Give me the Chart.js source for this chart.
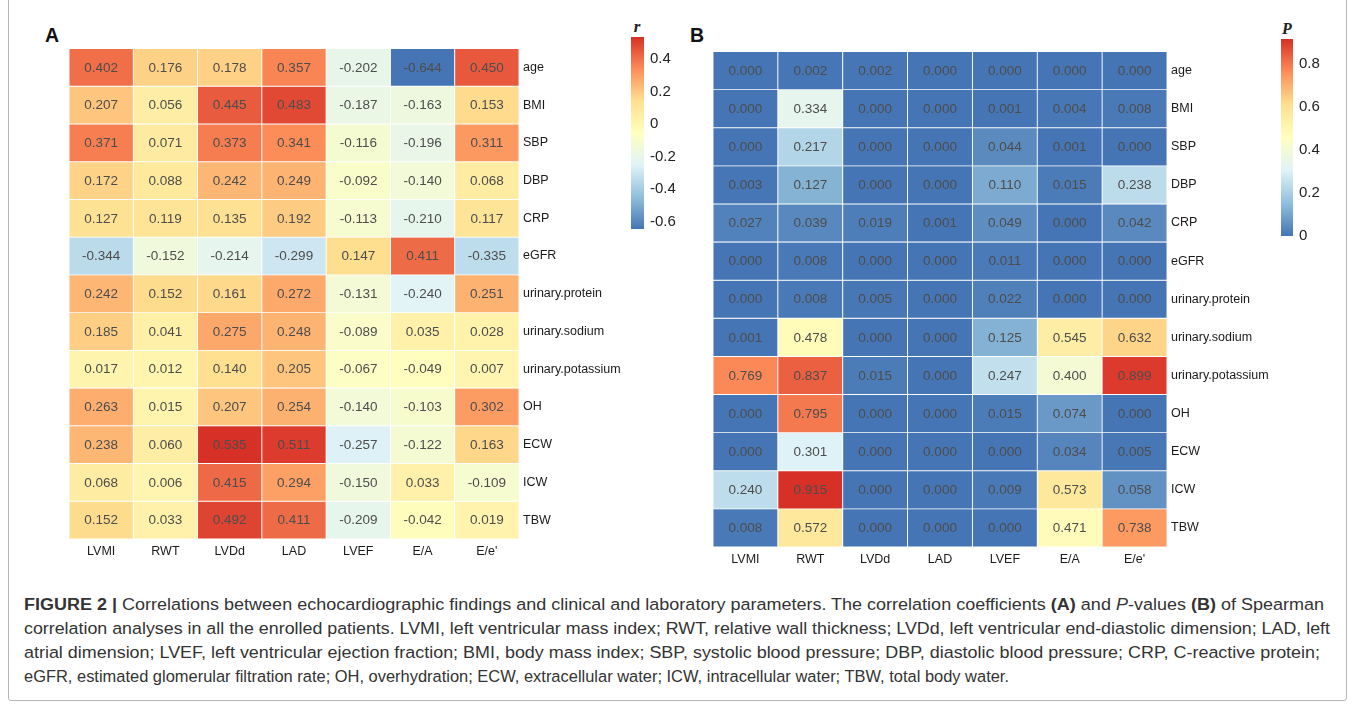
<!DOCTYPE html>
<html>
<head>
<meta charset="utf-8">
<script src="https://cdn.jsdelivr.net/npm/chart.js@4.4.1/dist/chart.umd.min.js"></script>
<style>
    body { margin: 0; background: #fff; }
    #fig { position: relative; width: 1355px; height: 706px; overflow: hidden; font-family: Arial, 'Liberation Sans', sans-serif; }
    canvas { position: absolute; }
    .panel { position: absolute; font-weight: bold; font-size: 19.5px; line-height: 19.5px; color: #111; }
    .ltitle { position: absolute; width: 20px; text-align: center; font-family: 'Liberation Serif', 'DejaVu Serif', serif; font-style: italic; font-weight: bold; color: #222; }
    #frame { position: absolute; left: 8px; top: -4px; width: 1337px; height: 703px; border: 1px solid #b5b5b5; border-radius: 3px; }
    .cap { position: absolute; left: 24px; white-space: nowrap; font-size: 17.2px; line-height: 20px; color: #333; transform-origin: 0 50%; }
</style>
</head>
<body>
<div id="fig">
    <div id="frame"></div>
    <div class="panel" style="left:45px; top:25.5px;">A</div>
    <div class="panel" style="left:690px; top:25.5px;">B</div>
    <div class="ltitle" style="left:627px; top:18px; font-size:17px; line-height:17px;">r</div>
    <div class="ltitle" style="left:1277px; top:21px; font-size:16px; line-height:16px;">P</div>

    <canvas id="heatA" width="560" height="527" style="left:69px; top:37px;"></canvas>
    <canvas id="barA" width="53" height="232" style="left:631px; top:17px;"></canvas>
    <canvas id="heatB" width="564" height="532" style="left:713px; top:40px;"></canvas>
    <canvas id="barB" width="52" height="237" style="left:1281px; top:19px;"></canvas>

    <div class="cap" style="top:594px;"><b>FIGURE 2 |</b> Correlations between echocardiographic findings and clinical and laboratory parameters. The correlation coefficients <b>(A)</b> and <i>P</i>-values <b>(B)</b> of Spearman</div>
    <div class="cap" style="top:618px;">correlation analyses in all the enrolled patients. LVMI, left ventricular mass index; RWT, relative wall thickness; LVDd, left ventricular end-diastolic dimension; LAD, left</div>
    <div class="cap" style="top:642px;">atrial dimension; LVEF, left ventricular ejection fraction; BMI, body mass index; SBP, systolic blood pressure; DBP, diastolic blood pressure; CRP, C-reactive protein;</div>
    <div class="cap" style="top:666px;">eGFR, estimated glomerular filtration rate; OH, overhydration; ECW, extracellular water; ICW, intracellular water; TBW, total body water.</div>
</div>

<script>
// column and row labels (same for both panels)
const colLabels = ['LVMI', 'RWT', 'LVDd', 'LAD', 'LVEF', 'E/A', "E/e'"];
const rowLabels = ['age', 'BMI', 'SBP', 'DBP', 'CRP', 'eGFR', 'urinary.protein', 'urinary.sodium',
    'urinary.potassium', 'OH', 'ECW', 'ICW', 'TBW'];

// panel A: Spearman r, one array per column (rows in rowLabels order)
const rLVMI = [0.402, 0.207, 0.371, 0.172, 0.127, -0.344, 0.242, 0.185, 0.017, 0.263, 0.238, 0.068, 0.152];
const rRWT  = [0.176, 0.056, 0.071, 0.088, 0.119, -0.152, 0.152, 0.041, 0.012, 0.015, 0.060, 0.006, 0.033];
const rLVDd = [0.178, 0.445, 0.373, 0.242, 0.135, -0.214, 0.161, 0.275, 0.140, 0.207, 0.535, 0.415, 0.492];
const rLAD  = [0.357, 0.483, 0.341, 0.249, 0.192, -0.299, 0.272, 0.248, 0.205, 0.254, 0.511, 0.294, 0.411];
const rLVEF = [-0.202, -0.187, -0.116, -0.092, -0.113, 0.147, -0.131, -0.089, -0.067, -0.140, -0.257, -0.150, -0.209];
const rEA   = [-0.644, -0.163, -0.196, -0.140, -0.210, 0.411, -0.240, 0.035, -0.049, -0.103, -0.122, 0.033, -0.042];
const rEe   = [0.450, 0.153, 0.311, 0.068, 0.117, -0.335, 0.251, 0.028, 0.007, 0.302, 0.163, -0.109, 0.019];

// panel B: P-values
const pLVMI = [0.000, 0.000, 0.000, 0.003, 0.027, 0.000, 0.000, 0.001, 0.769, 0.000, 0.000, 0.240, 0.008];
const pRWT  = [0.002, 0.334, 0.217, 0.127, 0.039, 0.008, 0.008, 0.478, 0.837, 0.795, 0.301, 0.915, 0.572];
const pLVDd = [0.002, 0.000, 0.000, 0.000, 0.019, 0.000, 0.005, 0.000, 0.015, 0.000, 0.000, 0.000, 0.000];
const pLAD  = [0.000, 0.000, 0.000, 0.000, 0.001, 0.000, 0.000, 0.000, 0.000, 0.000, 0.000, 0.000, 0.000];
const pLVEF = [0.000, 0.001, 0.044, 0.110, 0.049, 0.011, 0.022, 0.125, 0.247, 0.015, 0.000, 0.009, 0.000];
const pEA   = [0.000, 0.004, 0.001, 0.015, 0.000, 0.000, 0.000, 0.545, 0.400, 0.074, 0.034, 0.573, 0.471];
const pEe   = [0.000, 0.008, 0.000, 0.238, 0.042, 0.000, 0.000, 0.632, 0.899, 0.000, 0.005, 0.058, 0.738];

// colour bar tick labels
const rTicks = [-0.6, -0.4, -0.2, 0, 0.2, 0.4];
const pTicks = [0, 0.2, 0.4, 0.6, 0.8];

const rCols = [rLVMI, rRWT, rLVDd, rLAD, rLVEF, rEA, rEe];
const pCols = [pLVMI, pRWT, pLVDd, pLAD, pLVEF, pEA, pEe];

// rev(RdYlBu) like pheatmap default
const palette = ['#4575B4', '#91BFDB', '#E0F3F8', '#FFFFBF', '#FEE090', '#FC8D59', '#D73027'];
const labelFont = { family: "Arial, 'Liberation Sans', sans-serif", size: 12.5 };

function hexRgb(h) {
    return [1, 3, 5].map((k) => parseInt(h.slice(k, k + 2), 16));
}

function heatColor(v, lo, hi) {
    let t = (v - lo) / (hi - lo) * (palette.length - 1);
    t = Math.max(0, Math.min(palette.length - 1, t));
    const i = Math.min(Math.floor(t), palette.length - 2);
    const f = t - i;
    const a = hexRgb(palette[i]), b = hexRgb(palette[i + 1]);
    const c = a.map((x, k) => Math.round(x + (b[k] - x) * f));
    return `rgb(${c[0]}, ${c[1]}, ${c[2]})`;
}

function makeHeat(id, cols, lo, hi, axisW) {
    const datasets = rowLabels.map((row, i) => ({
        label: row,
        data: cols.map(() => 1),
        backgroundColor: cols.map((col) => heatColor(col[i], lo, hi)),
        borderColor: 'rgba(255, 255, 255, 0.9)',
        borderWidth: 0.8,
        borderSkipped: false,
        categoryPercentage: 1,
        barPercentage: 1
    }));

    // write the value in every cell
    const cellText = {
        id: 'cellText',
        afterDatasetsDraw(chart) {
            const ctx = chart.ctx;
            ctx.save();
            ctx.font = "13.5px Arial, 'Liberation Sans', sans-serif";
            ctx.fillStyle = '#4d4d4d';
            ctx.textAlign = 'center';
            ctx.textBaseline = 'middle';
            chart.data.datasets.forEach((ds, i) => {
                chart.getDatasetMeta(i).data.forEach((bar, j) => {
                    ctx.fillText(cols[j][i].toFixed(3), bar.x, (bar.y + bar.base) / 2 + 0.5);
                });
            });
            ctx.restore();
        }
    };

    return new Chart(document.getElementById(id), {
        type: 'bar',
        data: { labels: colLabels, datasets: datasets },
        options: {
            responsive: false,
            animation: false,
            layout: { padding: 0 },
            plugins: { legend: { display: false }, tooltip: { enabled: false } },
            scales: {
                x: {
                    stacked: true,
                    grid: { display: false, drawTicks: false },
                    border: { display: false },
                    ticks: { font: labelFont, color: '#1a1a1a', padding: 5, maxRotation: 0, autoSkip: false },
                    afterFit: (s) => { s.height = 25; }
                },
                y: { stacked: true, display: false, min: 0, max: rowLabels.length, reverse: true },
                rows: {
                    type: 'category',
                    labels: rowLabels,
                    position: 'right',
                    offset: true,
                    grid: { display: false, drawTicks: false },
                    border: { display: false },
                    ticks: { font: labelFont, color: '#1a1a1a', padding: 4, autoSkip: false },
                    afterFit: (s) => { s.width = axisW; }
                }
            }
        },
        plugins: [cellText]
    });
}

function makeBar(id, lo, hi, ticks) {
    return new Chart(document.getElementById(id), {
        type: 'bar',
        data: {
            labels: [''],
            datasets: [{
                data: [[lo, hi]],
                backgroundColor: (c) => {
                    const chart = c.chart;
                    if (!chart.chartArea) return null;
                    const ys = chart.scales.y;
                    const g = chart.ctx.createLinearGradient(0, ys.getPixelForValue(lo), 0, ys.getPixelForValue(hi));
                    palette.forEach((col, k) => g.addColorStop(k / (palette.length - 1), col));
                    return g;
                },
                borderWidth: 0,
                categoryPercentage: 1,
                barPercentage: 1
            }]
        },
        options: {
            responsive: false,
            animation: false,
            layout: { padding: { top: 20, bottom: 20, left: 0, right: 0 } },
            plugins: { legend: { display: false }, tooltip: { enabled: false } },
            scales: {
                x: { display: false },
                y: {
                    position: 'right',
                    min: lo,
                    max: hi,
                    afterBuildTicks: (s) => { s.ticks = ticks.map((v) => ({ value: v })); },
                    grid: { display: false, drawTicks: false },
                    border: { display: false },
                    ticks: { font: { family: "Arial, 'Liberation Sans', sans-serif", size: 15 }, color: '#222', padding: 6 },
                    afterFit: (s) => { s.width = 40; }
                }
            }
        }
    });
}

const rAll = rCols.flat(), pAll = pCols.flat();
const rMin = Math.min(...rAll), rMax = Math.max(...rAll);
const pMin = Math.min(...pAll), pMax = Math.max(...pAll);

makeHeat('heatA', rCols, rMin, rMax, 110);
makeHeat('heatB', pCols, pMin, pMax, 110);
makeBar('barA', rMin, rMax, rTicks);
makeBar('barB', pMin, pMax, pTicks);

// squeeze caption lines to the condensed width of the original
const capWidths = [1300, 1306, 1296, 985];
document.querySelectorAll('.cap').forEach((el, i) => {
    const w = el.getBoundingClientRect().width;
    el.style.transform = `scaleX(${capWidths[i] / w})`;
});
</script>
</body>
</html>
